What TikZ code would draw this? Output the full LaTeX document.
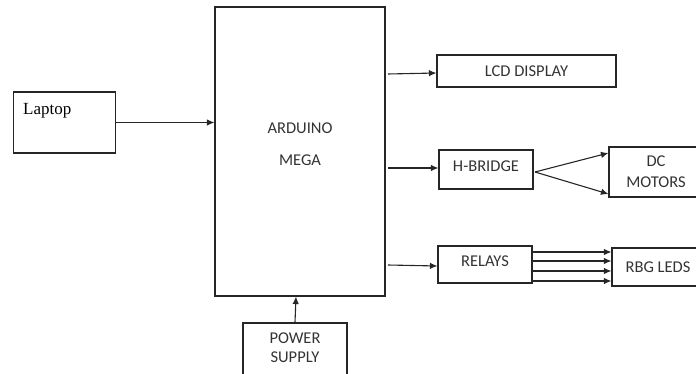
\documentclass[tikz,border=0pt]{standalone}
\usepackage{fontspec}
\setmainfont{Carlito}
\newfontfamily\serifface{Liberation Serif}
\usetikzlibrary{arrows.meta}
\begin{document}
\begin{tikzpicture}[x=1pt,y=-1pt,
  blk/.style={draw=black!85,line width=1.1pt,rectangle,inner sep=0pt,text=black!80,font=\fontsize{16.5}{21}\selectfont,align=center},
  lbl/.style={inner sep=0pt,text=black!80,font=\fontsize{16.5}{19}\selectfont,align=center},
  conn/.style={draw=black!85,line width=1.1pt,-{Latex[length=7.5pt,width=6.5pt]}}]
\useasboundingbox (0,0) rectangle (696,374);
\clip (0,0) rectangle (696,374);
% blocks
\node[blk,minimum width=170pt,minimum height=289pt] (ard) at (300,151.5) {};
\node[lbl] (ardtxt) at (300,144) {ARDUINO\\[13pt]MEGA};
\node[blk,minimum width=102pt,minimum height=61pt] (laptop) at (64.5,122.5) {};
\node[inner sep=0pt,anchor=west,text=black,font=\serifface\fontsize{17}{19}\selectfont] (laptoptxt) at (23,111) {Laptop};
\node[blk,minimum width=179pt,minimum height=32pt] (lcd) at (526.5,71) {LCD DISPLAY};
\node[blk,minimum width=94pt,minimum height=39pt] (hb) at (486,169.5) {};
\node[lbl] (hbtxt) at (486,166) {H-BRIDGE};
\node[blk,minimum width=94pt,minimum height=50pt] (dc) at (656,172) {DC\\MOTORS};
\node[blk,minimum width=94pt,minimum height=37pt] (rel) at (485,264.5) {};
\node[lbl] (reltxt) at (485,261) {RELAYS};
\node[blk,minimum width=92pt,minimum height=38pt] (rbg) at (658,267) {RBG LEDS};
\node[blk,minimum width=104pt,minimum height=56pt] (pwr) at (295,351) {};
\node[lbl] (pwrtxt) at (295,347.5) {POWER\\SUPPLY};
% connectors
\draw[conn] (laptop.east) -- (laptop.east -| ard.west);
\coordinate (o1) at (388,74);
\coordinate (o2) at (388,168);
\coordinate (o3) at (388,265);
\draw[conn] (o1) -- (lcd.west |- 0,73);
\draw[conn] (o2) -- (hb.west |- o2);
\draw[conn] (o3) -- (rel.west |- 0,266);
\coordinate (hbo) at (535,172);
\draw[conn] (hbo) -- (dc.west |- 0,153);
\draw[conn] (hbo) -- (dc.west |- 0,194);
\foreach \yy in {252,261,271,281}
  \draw[conn] (rel.east |- 0,\yy) -- (rbg.west |- 0,\yy);
\draw[conn] (pwr.north) -- (ard.south -| 296,0);
\end{tikzpicture}
\end{document}
